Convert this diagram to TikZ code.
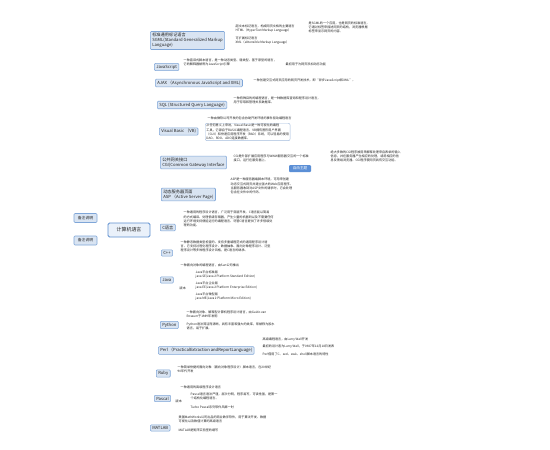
\documentclass[tikz,border=0pt]{standalone}
\usepackage{fontspec}
\setmainfont{Noto Sans CJK SC}
\XeTeXlinebreaklocale "zh"
\usetikzlibrary{backgrounds}
\definecolor{topicfill}{HTML}{D9E4F2}
\definecolor{topicborder}{HTML}{7FA6D8}
\definecolor{rootfill}{HTML}{EAF1FA}
\definecolor{rootborder}{HTML}{5E8FCF}
\definecolor{conncol}{HTML}{93B6E2}
\definecolor{trunkcol}{HTML}{7AA3D9}
\definecolor{ulcol}{HTML}{A3BCDD}
\definecolor{textc}{HTML}{222222}
\definecolor{freefill}{HTML}{5B8FD6}
\begin{document}
\begin{tikzpicture}[x=1pt,y=-1pt,
  topic/.style={draw=topicborder,fill=topicfill,rounded corners=1pt,line width=0.55pt,font=\fontsize{4.2}{5.2}\selectfont,inner xsep=2pt,inner ysep=1.5pt,align=left,anchor=west,text=textc},
  rootbox/.style={draw=rootborder,fill=rootfill,rounded corners=1.5pt,line width=0.8pt,font=\fontsize{5}{6}\selectfont,minimum width=42pt,minimum height=14pt,text=textc},
  notebox/.style={draw=topicborder,fill=topicfill,rounded corners=1pt,line width=0.55pt,font=\fontsize{3.8}{4.6}\selectfont,minimum width=23pt,minimum height=9pt,inner sep=1pt,text=textc},
  leaf/.style={font=\fontsize{3.1}{4.2}\selectfont,align=left,anchor=south west,inner xsep=0.5pt,inner ysep=0.6pt,text=textc},
  framed/.style={leaf,anchor=north west,draw=ulcol,line width=0.45pt,rounded corners=2pt,inner xsep=1.2pt,inner ysep=1pt},
  freebox/.style={fill=freefill,rounded corners=1pt,font=\fontsize{3.6}{4.4}\selectfont,text=white,minimum width=22pt,minimum height=7pt,inner sep=0.8pt},
  conn/.style={draw=conncol,line width=0.55pt},
  trunk/.style={draw=trunkcol,line width=0.8pt},
  uline/.style={draw=ulcol,line width=0.5pt}]
\useasboundingbox (0,0) rectangle (550,450);
\fill[white] (0,0) rectangle (550,450);

% root and notes
\node[rootbox] (root) at (129,230) {计算机语言};
\node[notebox] (n1) at (85.5,218) {备注说明};
\node[notebox] (n2) at (85.5,240.5) {备注说明};
\coordinate (hub) at (135,230);

% main topics
\node[topic] (sgml) at (150,40.5) {标准通用标记语言\\SGML(Standard Generalized Markup\\Language)};
\node[topic] (js) at (154,67) {JavaScript};
\node[topic] (ajax) at (155,83) {AJAX （Asynchronous JavaScript and XML)};
\node[topic] (sql) at (157,105) {SQL (Structured Query Language)};
\node[topic] (vb) at (159,131.5) {Visual Basic （VB)};
\node[topic] (cgi) at (160,162.5) {公共网关接口\\CGI(Common Gateway Interface};
\node[topic] (asp) at (161,194.5) {动态服务器页面\\ASP （Active Server Page)};
\node[topic] (c) at (160,227.5) {C语言};
\node[topic] (cpp) at (161,253) {C++};
\node[topic] (java) at (160,280) {Java};
\node[topic] (python) at (160,325) {Python};
\node[topic] (perl) at (158,350.5) {Perl （PracticalExtraction andReportLanguage)};
\node[topic] (ruby) at (156,373.5) {Ruby};
\node[topic] (pascal) at (154,398.5) {Pascal};
\node[topic] (matlab) at (150,428) {MATLAB};

% free topic
\node[freebox] (free) at (300,168.5) {自由主题};

% leaves
\node[leaf] (s1) at (235,33) {超文本标记语言，构成网页文档的主要语言\\HTML（HyperText Markup Language）};
\node[leaf] (s1x) at (308,34) {是SGML的一个应用，也是网页的标准语言，\\它通过标签来描述网页的结构，浏览器根据\\标签来显示网页的内容。};
\node[leaf] (s2) at (235,45) {可扩展标记语言\\XML（eXtensible Markup Language）};

\node[leaf] (j1) at (183,67) {一种直译式脚本语言，是一种动态类型、弱类型、基于原型的语言，\\它的解释器被称为JavaScript引擎};
\node[leaf] (j2) at (285,67) {最初用于为网页添加动态功能};

\node[leaf] (x1) at (253,83) {一种创建交互式网页应用的网页开发技术，即“异步JavaScript和XML”。};

\node[leaf] (q1) at (233,105) {一种特殊目的的编程语言，是一种数据库查询和程序设计语言，\\用于存取和管理关系数据库。};

\node[leaf] (v0) at (207,121) {一种由微软公司开发的包含协助开发环境的事件驱动编程语言};
\node[framed] (v1) at (205,123) {从任何意义上来说，Visual Basic是一种可视化的编程\\工具，它源自于BASIC编程语言。VB拥有图形用户界面\\（GUI）和快速应用程序开发（RAD）系统，可以轻易的使用\\DAO、RDO、ADO连接数据库。};

\node[leaf] (g1) at (233,162.5) {CGI是外部扩展应用程序与WWW服务器交互的一个标准\\接口，运行在服务器上。};
\node[leaf] (g2) at (330,162.5) {绝大多数的CGI程序被用来解释处理来自表单的输入\\信息，并在服务器产生相应的处理，或将相应的信\\息反馈给浏览器。CGI程序使网页具有交互功能。};

\node[leaf] (a1) at (230,194.5) {ASP是一种服务器端脚本环境，可用来创建\\动态交互式网页并建立强大的Web应用程序。\\当服务器收到对ASP文件的请求时，它会处理\\包含在文件中的代码。};

\node[leaf] (c1) at (183,227.5) {一种通用的程序设计语言，广泛用于底层开发。C语言能以简易\\的方式编译、处理低级存储器，产生少量的机器码以及不需要任何\\运行环境支持便能运行的编程语言。尽管C语言提供了许多低级处\\理的功能。};

\node[leaf] (p1) at (180,253) {一种静态数据类型检查的、支持多重编程范式的通用程序设计语\\言。它支持过程化程序设计、数据抽象、面向对象程序设计、泛型\\程序设计等多种程序设计风格，是C语言的继承。};

\node[leaf] (jv0) at (180,268) {一种面向对象的编程语言，由Sun公司推出};
\node[leaf] (jvv) at (179,290.5) {版本};
\node[leaf] (jv1) at (195,279) {Java平台标准版\\java SE(Java 2 Platform Standard Edition)};
\node[leaf] (jv2) at (195,290) {Java平台企业版\\java EE(Java 2 Platform Enterprise Edition)};
\node[leaf] (jv3) at (195,301) {Java平台微型版\\java ME(Java 2 Platform Micro Edition)};

\node[leaf] (py1) at (186,319) {一种面向对象、解释型计算机程序设计语言，由Guido van\\Rossum于1989年发明};
\node[leaf] (py2) at (186,331) {Python语法简洁而清晰，具有丰富和强大的类库，常被称为胶水\\语言，易于扩展。};

\node[leaf] (pl1) at (262,342) {高级编程语言，由Larry Wall开发};
\node[leaf] (pl2) at (262,349.5) {最初的设计者为Larry Wall，于1987年12月18日发表};
\node[leaf] (pl3) at (262,357) {Perl借用了C、sed、awk、shell脚本语言的特性};

\node[leaf] (r1) at (177,373.5) {一种简单快捷的面向对象（面向对象程序设计）脚本语言，在20世纪\\90年代开发};

\node[leaf] (pa0) at (180,390) {一种通用的高级程序设计语言};
\node[leaf] (pav) at (175,404) {版本};
\node[leaf] (pa1) at (190,400.5) {Pascal语言语法严谨，层次分明，程序易写，可读性强，是第一\\个结构化编程语言。};
\node[leaf] (pa2) at (190,410) {Turbo Pascal系列软件风靡一时};

\node[leaf] (m1) at (178,424) {美国MathWorks公司出品的商业数学软件，用于算法开发、数据\\可视化以及数值计算的高级语言};
\node[leaf] (m2) at (178,433) {MATLAB是矩阵实验室的缩写};

\begin{pgfonlayer}{background}
  % trunk connectors
  \foreach \t in {sgml,js,ajax,sql,vb,cgi,asp,c,cpp,java,python,perl,ruby,pascal,matlab}
    \draw[trunk] (hub) .. controls (hub |- \t.west) and (hub |- \t.west) .. (\t.west);
  \draw[conn] (root.west) .. controls +(-6,0) and +(6,0) .. (n1.east);
  \draw[conn] (root.west) .. controls +(-6,0) and +(6,0) .. (n2.east);
  % underlines
  \foreach \l in {s1,s1x,s2,j1,j2,x1,q1,v0,g1,g2,a1,c1,p1,jv0,jvv,jv1,jv2,jv3,py1,py2,pl1,pl2,pl3,r1,pa0,pav,pa1,pa2,m1,m2}
    \draw[uline] (\l.south west) -- (\l.south east);
  % leaf connectors
  \foreach \p/\l in {sgml/s1,sgml/s2,js/j1,ajax/x1,sql/q1,vb/v0,cgi/g1,asp/a1,c/c1,cpp/p1,java/jv0,java/jvv,jvv/jv1,jvv/jv2,jvv/jv3,python/py1,python/py2,perl/pl1,perl/pl2,perl/pl3,ruby/r1,pascal/pa0,pascal/pav,pav/pa1,pav/pa2,matlab/m1,matlab/m2}
    \draw[conn] (\p.east) .. controls +(3,0) and +(-3,0) .. (\l.south west);
  \draw[conn] (vb.east) .. controls +(3,0) and +(-3,0) .. (v1.west);
  \foreach \a/\b in {s1/s1x,j1/j2,g1/g2}
    \draw[conn,shorten <=3pt,shorten >=3pt] (\a.east) -- (\b.west);
\end{pgfonlayer}
\end{tikzpicture}
\end{document}
